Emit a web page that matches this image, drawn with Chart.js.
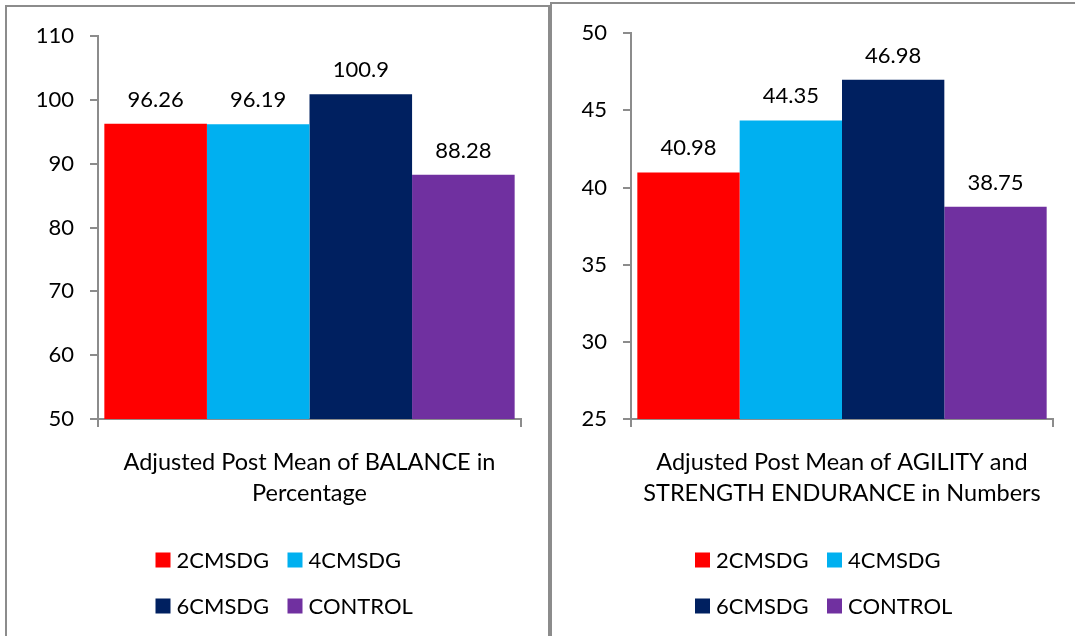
<!DOCTYPE html>
<html>
<head>
<meta charset="utf-8">
<script src="https://cdn.jsdelivr.net/npm/chart.js@4.4.1/dist/chart.umd.min.js"></script>
<style>
  html, body { margin: 0; padding: 0; background: #fff; width: 1075px; height: 636px; overflow: hidden; }
  .panel { position: absolute; box-sizing: border-box; border-color: #8c8c8c; border-style: solid; }
  #p1 { left: 5px; top: 5px; width: 545px; height: 660px; border-width: 2px 2px 0 2px; }
  #p2 { left: 550px; top: 2px; width: 540px; height: 660px; border-width: 2px 0 0 2px; }
  canvas { position: absolute; }
  #c1 { left: 7px; top: 7px; }
  #c2 { left: 552px; top: 4px; }
</style>
</head>
<body>
<div class="panel" id="p1"></div>
<div class="panel" id="p2"></div>
<canvas id="c1" width="541" height="629"></canvas>
<canvas id="c2" width="523" height="632"></canvas>
<script>
// Groups compared in both charts
const groups = ['2CMSDG', '4CMSDG', '6CMSDG', 'CONTROL'];
const groupColors = ['#FF0000', '#00B0F0', '#002060', '#7030A0'];

// Balance (percentage)
const balanceCategory = [['Adjusted Post Mean of BALANCE in', 'Percentage']];
const balanceValues = [96.26, 96.19, 100.9, 88.28];
const balanceTicks = [50, 60, 70, 80, 90, 100, 110];

// Agility and strength endurance (numbers)
const agilityCategory = [['Adjusted Post Mean of AGILITY and', 'STRENGTH ENDURANCE in Numbers']];
const agilityValues = [40.98, 44.35, 46.98, 38.75];
const agilityTicks = [25, 30, 35, 40, 45, 50];

const FONT = 'Lato, "Open Sans", sans-serif';
const AXIS_GREY = '#8c8c8c';

// Value printed above every bar
const barValueLabels = {
  id: 'barValueLabels',
  afterDatasetsDraw(chart) {
    const ctx = chart.ctx;
    ctx.save();
    ctx.font = '22px ' + FONT;
    ctx.fillStyle = '#000';
    ctx.textAlign = 'center';
    ctx.textBaseline = 'middle';
    chart.data.datasets.forEach((ds, i) => {
      chart.getDatasetMeta(i).data.forEach((bar, j) => {
        ctx.fillText(String(ds.data[j]), bar.x, bar.y - 24);
      });
    });
    ctx.restore();
  }
};

// Two-column legend under the category label
const gridLegend = {
  id: 'gridLegend',
  afterDraw(chart, args, opts) {
    const ctx = chart.ctx;
    const area = chart.chartArea;
    const cx = (area.left + area.right) / 2;
    ctx.save();
    ctx.font = '22px ' + FONT;
    ctx.textAlign = 'left';
    ctx.textBaseline = 'middle';
    chart.data.datasets.forEach((ds, i) => {
      const col = i % 2, row = Math.floor(i / 2);
      const x = cx + opts.columns[col];
      const y = opts.top + row * opts.rowGap;
      ctx.fillStyle = ds.backgroundColor;
      ctx.fillRect(x, y - 7.5, 15, 15);
      ctx.fillStyle = '#000';
      ctx.fillText(ds.label, x + 21, y + 1);
    });
    ctx.restore();
  }
};

function makeChart(canvasId, category, values, ticks, box) {
  const datasets = groups.map((g, i) => ({
    label: g,
    data: [values[i]],
    backgroundColor: groupColors[i],
    borderWidth: 0,
    barPercentage: 1.0,
    categoryPercentage: 0.97
  }));
  return new Chart(document.getElementById(canvasId), {
    type: 'bar',
    data: { labels: category, datasets },
    plugins: [barValueLabels, gridLegend],
    options: {
      responsive: false,
      animation: false,
      layout: { padding: { top: box.top, right: box.right, left: 0, bottom: 0 } },
      plugins: {
        legend: { display: false },
        tooltip: { enabled: false },
        gridLegend: { columns: box.legendColumns, top: box.legendTop, rowGap: 46 }
      },
      scales: {
        x: {
          offset: true,
          grid: { offset: true, drawOnChartArea: false, drawTicks: true, tickLength: 8, color: AXIS_GREY, lineWidth: 2 },
          border: { display: true, color: AXIS_GREY, width: 2 },
          ticks: { color: '#000', font: { family: FONT, size: 23.5, lineHeight: 1.32 }, padding: 19.5, maxRotation: 0 },
          afterFit(scale) { scale.height = box.xHeight; }
        },
        y: {
          min: ticks[0],
          max: ticks[ticks.length - 1],
          afterBuildTicks(scale) { scale.ticks = ticks.map(v => ({ value: v })); },
          grid: { drawOnChartArea: false, drawTicks: true, tickLength: 8, color: AXIS_GREY, lineWidth: 2 },
          border: { display: true, color: AXIS_GREY, width: 2 },
          ticks: { color: '#000', font: { family: FONT, size: 22 }, padding: 16 },
          afterFit(scale) { scale.width = box.yWidth; }
        }
      }
    }
  });
}

makeChart('c1', balanceCategory, balanceValues, balanceTicks,
  { top: 28, right: 27, yWidth: 91, xHeight: 217, legendColumns: [-154, -22], legendTop: 553 });
makeChart('c2', agilityCategory, agilityValues, agilityTicks,
  { top: 26, right: 22, yWidth: 79, xHeight: 217, legendColumns: [-147, -15], legendTop: 556 });
</script>
</body>
</html>
